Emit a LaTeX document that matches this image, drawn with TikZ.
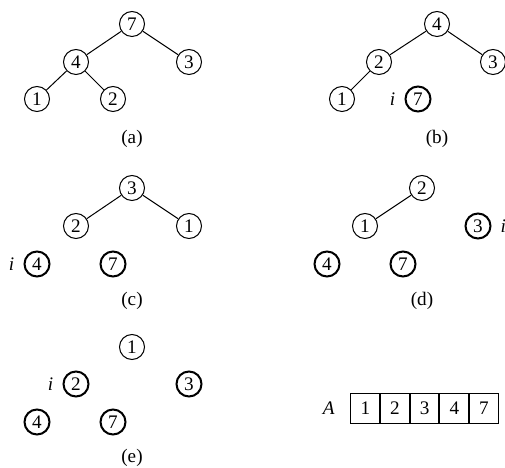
\documentclass[tikz,border=0pt]{standalone}
\usepackage{fontspec}
\setmainfont{Liberation Serif}
\usetikzlibrary{positioning}

\begin{document}
\begin{tikzpicture}[x=0.6pt, y=-0.6pt, font=\fontsize{11.5}{13}\selectfont, key/.style = {circle, draw, semithick, minimum size=15pt, inner sep=0pt}, sorted/.style = {key, line width=1.2pt}, cell/.style = {draw, semithick, minimum width=17.2pt, minimum height=17.4pt, inner sep=0pt}, every edge/.append style={semithick}]

\useasboundingbox (0,0) rectangle (505,468);

% (a)
\node[key] (a7) at (132,24) {7};
\node[key] (a4) at (76,62) {4};
\node[key] (a3) at (189,62) {3};
\node[key] (a1) at (37,99) {1};
\node[key] (a2) at (113,99) {2};
\node (la) at (132,139) {(a)};

\path
    (a7) edge (a4)
    (a7) edge (a3)
    (a4) edge (a1)
    (a4) edge (a2);

% (b)
\node[key] (b4) at (437,24) {4};
\node[key] (b2) at (379,62) {2};
\node[key] (b3) at (493,62) {3};
\node[key] (b1) at (342,99) {1};
\node[sorted] (b7) at (418,99) {7};
\node (bi) [left=2pt of b7] {\textit{i}};
\node (lb) at (437,139) {(b)};

\path
    (b4) edge (b2)
    (b4) edge (b3)
    (b2) edge (b1);

% (c)
\node[key] (c3) at (132,188) {3};
\node[key] (c2) at (76,226) {2};
\node[key] (c1) at (189,226) {1};
\node[sorted] (c4) at (37,264) {4};
\node[sorted] (c7) at (113,264) {7};
\node (ci) [left=2pt of c4] {\textit{i}};
\node (lc) at (132,301) {(c)};

\path
    (c3) edge (c2)
    (c3) edge (c1);

% (d)
\node[key] (d2) at (422,188) {2};
\node[key] (d1) at (365,226) {1};
\node[sorted] (d3) at (478,226) {3};
\node[sorted] (d4) at (327,264) {4};
\node[sorted] (d7) at (403,264) {7};
\node (di) [right=2pt of d3] {\textit{i}};
\node (ld) at (422,301) {(d)};

\path
    (d2) edge (d1);

% (e)
\node[key] (e1) at (132,347) {1};
\node[sorted] (e2) at (76,384) {2};
\node[sorted] (e3) at (189,384) {3};
\node[sorted] (e4) at (37,422) {4};
\node[sorted] (e7) at (113,422) {7};
\node (ei) [left=2pt of e2] {\textit{i}};
\node (le) at (132,458) {(e)};

% array A
\node[cell] (A1) at (365.3,408.5) {1};
\node[cell] (A2) [right=0pt of A1] {2};
\node[cell] (A3) [right=0pt of A2] {3};
\node[cell] (A4) [right=0pt of A3] {4};
\node[cell] (A5) [right=0pt of A4] {7};
\node (A) [left=6pt of A1] {\textit{A}};
\end{tikzpicture}
\end{document}
